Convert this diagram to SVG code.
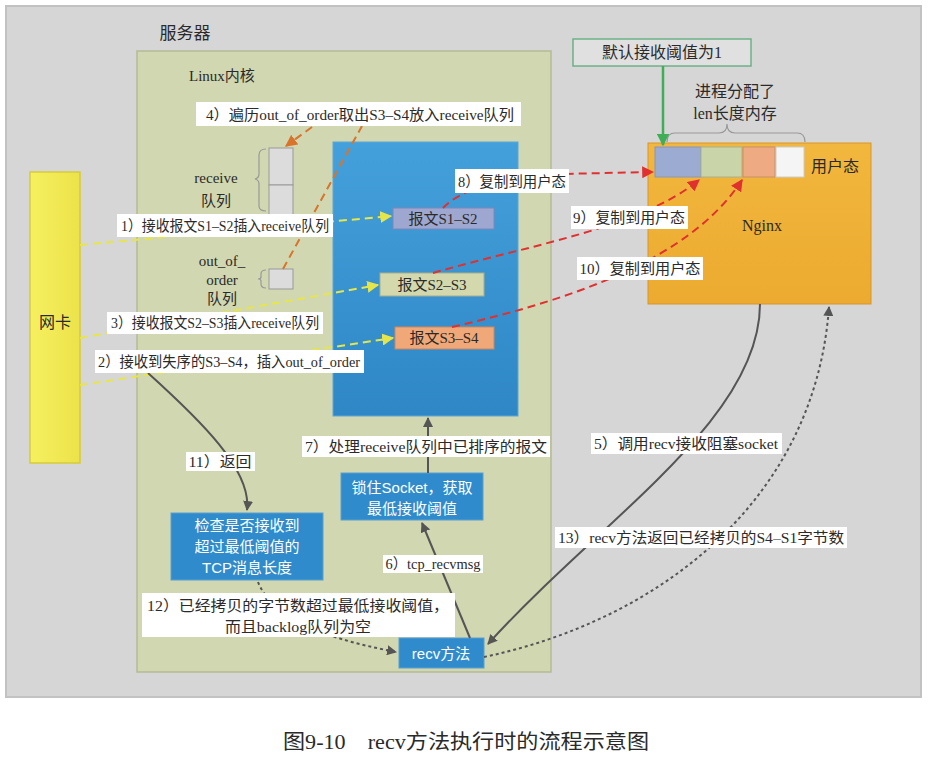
<svg xmlns="http://www.w3.org/2000/svg" width="932" height="765" viewBox="0 0 932 765">
<defs>
<style>
.lbl{font-family:"Liberation Serif","Noto Sans CJK SC",serif;font-size:15px;fill:#2a2a2a;}
.lblbox{fill:#ffffff;}
.wt{font-family:"Liberation Sans","Noto Sans CJK SC",sans-serif;font-size:15px;fill:#ffffff;text-anchor:middle;}
.ser{font-family:"Liberation Serif","Noto Sans CJK SC",serif;fill:#2a2a2a;}
.yl{fill:none;stroke:#e6e64a;stroke-width:2;stroke-dasharray:8 5;}
.rd{fill:none;stroke:#e03030;stroke-width:2;stroke-dasharray:8 5;}
.or{fill:none;stroke:#d8742c;stroke-width:2;stroke-dasharray:8 5;}
.gs{fill:none;stroke:#555;stroke-width:2;}
.gd{fill:none;stroke:#555;stroke-width:2;stroke-dasharray:3 3;}
.cell{fill:#dcdcdc;stroke:#999;stroke-width:1;}
.brace{fill:none;stroke:#999;stroke-width:1.2;}
</style>
<linearGradient id="gBlue" x1="0" y1="0" x2="0" y2="1"><stop offset="0" stop-color="#44a0da"/><stop offset="1" stop-color="#2f87c6"/></linearGradient>
<linearGradient id="gOrange" x1="0" y1="0" x2="0" y2="1"><stop offset="0" stop-color="#f2b73e"/><stop offset="1" stop-color="#ecaa30"/></linearGradient>
<linearGradient id="gYellow" x1="0" y1="0" x2="1" y2="0"><stop offset="0" stop-color="#f6f060"/><stop offset="1" stop-color="#ece24a"/></linearGradient>
<marker id="mY" viewBox="0 0 10 10" refX="9" refY="5" markerWidth="6" markerHeight="6" orient="auto"><path d="M0,0 L10,5 L0,10 z" fill="#e6e64a"/></marker>
<marker id="mR" viewBox="0 0 10 10" refX="9" refY="5" markerWidth="6" markerHeight="6" orient="auto"><path d="M0,0 L10,5 L0,10 z" fill="#e03030"/></marker>
<marker id="mO" viewBox="0 0 10 10" refX="9" refY="5" markerWidth="6" markerHeight="6" orient="auto"><path d="M0,0 L10,5 L0,10 z" fill="#d8742c"/></marker>
<marker id="mG" viewBox="0 0 10 10" refX="9" refY="5" markerWidth="5" markerHeight="5" orient="auto"><path d="M0,0 L10,5 L0,10 z" fill="#555"/></marker>
<marker id="mGr" viewBox="0 0 10 10" refX="9" refY="5" markerWidth="5" markerHeight="5" orient="auto"><path d="M0,0 L10,5 L0,10 z" fill="#3fae55"/></marker>
</defs>

<g id="server">
<rect x="6" y="6" width="915" height="691" fill="#d6d6d6" stroke="#c2c2c2" stroke-width="2"/>
<text x="185" y="39" class="ser" font-size="17" text-anchor="middle">服务器</text>
</g>

<g id="kernel">
<rect x="137" y="51" width="414" height="621" fill="#d1d7b0" stroke="#b5ba95" stroke-width="1.5"/>
<text x="189" y="81" class="ser" font-size="15">Linux内核</text>
</g>

<g id="receive-area">
<rect x="333" y="142" width="185" height="274" fill="url(#gBlue)" stroke="#5aa8d8" stroke-width="1"/>
</g>

<g id="nic">
<rect x="30" y="172" width="50" height="291" fill="url(#gYellow)" stroke="#d6cb3a" stroke-width="1.5"/>
<text x="55" y="328" class="ser" font-size="16" text-anchor="middle">网卡</text>
</g>

<g id="receive-queue">
<rect x="269" y="148" width="24" height="37" class="cell"/>
<rect x="269" y="185" width="24" height="30" class="cell"/>
<path d="M266,149 Q259,149 259,155 L259,174 Q259,178 255,179 Q259,180 259,184 L259,206 Q259,211 266,211" class="brace"/>
<text x="216" y="183" class="ser" font-size="15" text-anchor="middle">receive</text>
<text x="216" y="206" class="ser" font-size="15" text-anchor="middle">队列</text>
</g>

<g id="ooo-queue">
<rect x="269" y="269" width="24" height="20" class="cell"/>
<path d="M266,270 Q261,270 261,274 L261,277 Q261,279 258,279 Q261,279 261,281 L261,284 Q261,288 266,288" class="brace"/>
<text x="222" y="266" class="ser" font-size="15" text-anchor="middle">out_of_</text>
<text x="222" y="285" class="ser" font-size="15" text-anchor="middle">order</text>
<text x="222" y="304" class="ser" font-size="15" text-anchor="middle">队列</text>
</g>

<g id="msg-s1s2">
<rect x="393" y="208" width="101" height="21" fill="#9ea7cf" stroke="#7e88b8" stroke-width="1"/>
<text x="443" y="224" class="ser" font-size="15" text-anchor="middle">报文S1–S2</text>
</g>
<g id="msg-s2s3">
<rect x="380" y="273" width="104" height="23" fill="#d3d8ad" stroke="#a8ad88" stroke-width="1"/>
<text x="432" y="290" class="ser" font-size="15" text-anchor="middle">报文S2–S3</text>
</g>
<g id="msg-s3s4">
<rect x="395" y="327" width="99" height="22" fill="#f0a878" stroke="#c98860" stroke-width="1"/>
<text x="444" y="343" class="ser" font-size="15" text-anchor="middle">报文S3–S4</text>
</g>

<g id="nginx">
<rect x="648" y="143" width="223" height="161" fill="url(#gOrange)" stroke="#d8952a" stroke-width="1"/>
<rect x="655" y="147" width="46" height="30" fill="#9cabd2" stroke="#8a96b8" stroke-width="1"/>
<rect x="701" y="147" width="41" height="30" fill="#c9d4a8" stroke="#a8b090" stroke-width="1"/>
<rect x="743" y="147" width="32" height="30" fill="#eeaa82" stroke="#c8906a" stroke-width="1"/>
<rect x="776" y="147" width="28" height="30" fill="#f5f5f5" stroke="#cccccc" stroke-width="1"/>
<text x="835" y="172" class="ser" font-size="16" text-anchor="middle">用户态</text>
<text x="762" y="231" class="ser" font-size="16" text-anchor="middle">Nginx</text>
</g>

<g id="mem-note">
<path d="M667,142 Q667,133 675,133 L719,133 Q727,133 727,124 Q727,133 735,133 L797,133 Q805,133 805,142" class="brace"/>
<text x="735" y="97" class="ser" font-size="16" text-anchor="middle">进程分配了</text>
<text x="735" y="119" class="ser" font-size="16" text-anchor="middle">len长度内存</text>
</g>

<g id="threshold">
<rect x="573" y="39" width="178" height="27" fill="#e0e0e0" stroke="#6eb088" stroke-width="1.5"/>
<text x="662" y="58" class="ser" font-size="16" text-anchor="middle">默认接收阈值为1</text>
</g>

<g id="check-box">
<rect x="171" y="513" width="152" height="67" fill="#2f8bcb" stroke="#5aa0d0" stroke-width="1"/>
<text x="247" y="531" class="wt">检查是否接收到</text>
<text x="247" y="552" class="wt">超过最低阈值的</text>
<text x="247" y="573" class="wt">TCP消息长度</text>
</g>

<g id="lock-box">
<rect x="341" y="473" width="142" height="47" fill="#2f8bcb" stroke="#5aa0d0" stroke-width="1"/>
<text x="412" y="493" class="wt">锁住Socket，获取</text>
<text x="412" y="514" class="wt">最低接收阈值</text>
</g>

<g id="recv-box">
<rect x="399" y="638" width="85" height="30" fill="#2f8bcb" stroke="#5aa0d0" stroke-width="1"/>
<text x="441" y="659" class="wt">recv方法</text>
</g>

<g id="connectors">
<path d="M80,245 L391,216" class="yl" marker-end="url(#mY)"/>
<path d="M80,338 L378,285" class="yl" marker-end="url(#mY)"/>
<path d="M80,385 L393,338" class="yl" marker-end="url(#mY)"/>
<path d="M283,269 L362,126" class="or"/>
<path d="M312,127 L286,146" class="or" marker-end="url(#mO)"/>
<path d="M443,208 C460,190 500,176 560,174 L653,172" class="rd" marker-end="url(#mR)"/>
<path d="M433,273 C530,245 640,228 699,180" class="rd" marker-end="url(#mR)"/>
<path d="M452,327 C570,300 690,260 742,180" class="rd" marker-end="url(#mR)"/>
<path d="M663,66 L663,145" fill="none" stroke="#3fae55" stroke-width="2.5" marker-end="url(#mGr)"/>
<path d="M760,304 C760,420 600,520 488,644" class="gs" marker-end="url(#mG)"/>
<path d="M484,657 C660,620 815,500 829,307" class="gd" marker-end="url(#mG)"/>
<path d="M148,373 C200,420 252,470 247,510" class="gs" marker-end="url(#mG)"/>
<path d="M428,473 L428,418" class="gs" marker-end="url(#mG)"/>
<path d="M470,638 L422,523" class="gs" marker-end="url(#mG)"/>
<path d="M258,582 C275,625 345,642 396,652" class="gd" marker-end="url(#mG)"/>
</g>

<g id="labels">
<rect x="196" y="102" width="325" height="24" class="lblbox"/>
<text x="360" y="120" class="lbl" text-anchor="middle" textLength="308" lengthAdjust="spacingAndGlyphs">4）遍历out_of_order取出S3–S4放入receive队列</text>
<rect x="117" y="214" width="216" height="23" class="lblbox"/>
<text x="225" y="231" class="lbl" text-anchor="middle" textLength="208" lengthAdjust="spacingAndGlyphs">1）接收报文S1–S2插入receive队列</text>
<rect x="107" y="312" width="216" height="22" class="lblbox"/>
<text x="215" y="328" class="lbl" text-anchor="middle" textLength="208" lengthAdjust="spacingAndGlyphs">3）接收报文S2–S3插入receive队列</text>
<rect x="95" y="350" width="269" height="23" class="lblbox"/>
<text x="229" y="367" class="lbl" text-anchor="middle" textLength="262" lengthAdjust="spacingAndGlyphs">2）接收到失序的S3–S4，插入out_of_order</text>
<rect x="455" y="169" width="114" height="24" class="lblbox"/>
<text x="512" y="187" class="lbl" text-anchor="middle" textLength="108" lengthAdjust="spacingAndGlyphs">8）复制到用户态</text>
<rect x="571" y="206" width="117" height="23" class="lblbox"/>
<text x="629" y="223" class="lbl" text-anchor="middle" textLength="112" lengthAdjust="spacingAndGlyphs">9）复制到用户态</text>
<rect x="577" y="257" width="126" height="23" class="lblbox"/>
<text x="640" y="274" class="lbl" text-anchor="middle" textLength="121" lengthAdjust="spacingAndGlyphs">10）复制到用户态</text>
<rect x="591" y="433" width="191" height="21" class="lblbox"/>
<text x="686" y="449" class="lbl" text-anchor="middle" textLength="184" lengthAdjust="spacingAndGlyphs">5）调用recv接收阻塞socket</text>
<rect x="302" y="436" width="248" height="21" class="lblbox"/>
<text x="426" y="452" class="lbl" text-anchor="middle" textLength="242" lengthAdjust="spacingAndGlyphs">7）处理receive队列中已排序的报文</text>
<rect x="186" y="452" width="69" height="19" class="lblbox"/>
<text x="220" y="467" class="lbl" text-anchor="middle" textLength="63" lengthAdjust="spacingAndGlyphs">11）返回</text>
<rect x="383" y="555" width="100" height="18" class="lblbox"/>
<text x="433" y="569" class="lbl" text-anchor="middle" textLength="95" lengthAdjust="spacingAndGlyphs">6）tcp_recvmsg</text>
<rect x="555" y="527" width="292" height="21" class="lblbox"/>
<text x="701" y="543" class="lbl" text-anchor="middle" textLength="286" lengthAdjust="spacingAndGlyphs">13）recv方法返回已经拷贝的S4–S1字节数</text>
<rect x="142" y="593" width="313" height="44" class="lblbox"/>
<text x="298" y="611" class="lbl" text-anchor="middle" textLength="302" lengthAdjust="spacingAndGlyphs">12）已经拷贝的字节数超过最低接收阈值，</text>
<text x="298" y="632" class="lbl" text-anchor="middle" textLength="146" lengthAdjust="spacingAndGlyphs">而且backlog队列为空</text>
</g>

<g id="caption">
<text x="466" y="749" class="ser" font-size="20" text-anchor="middle" fill="#111" textLength="366" lengthAdjust="spacingAndGlyphs">图9-10　recv方法执行时的流程示意图</text>
</g>
</svg>
